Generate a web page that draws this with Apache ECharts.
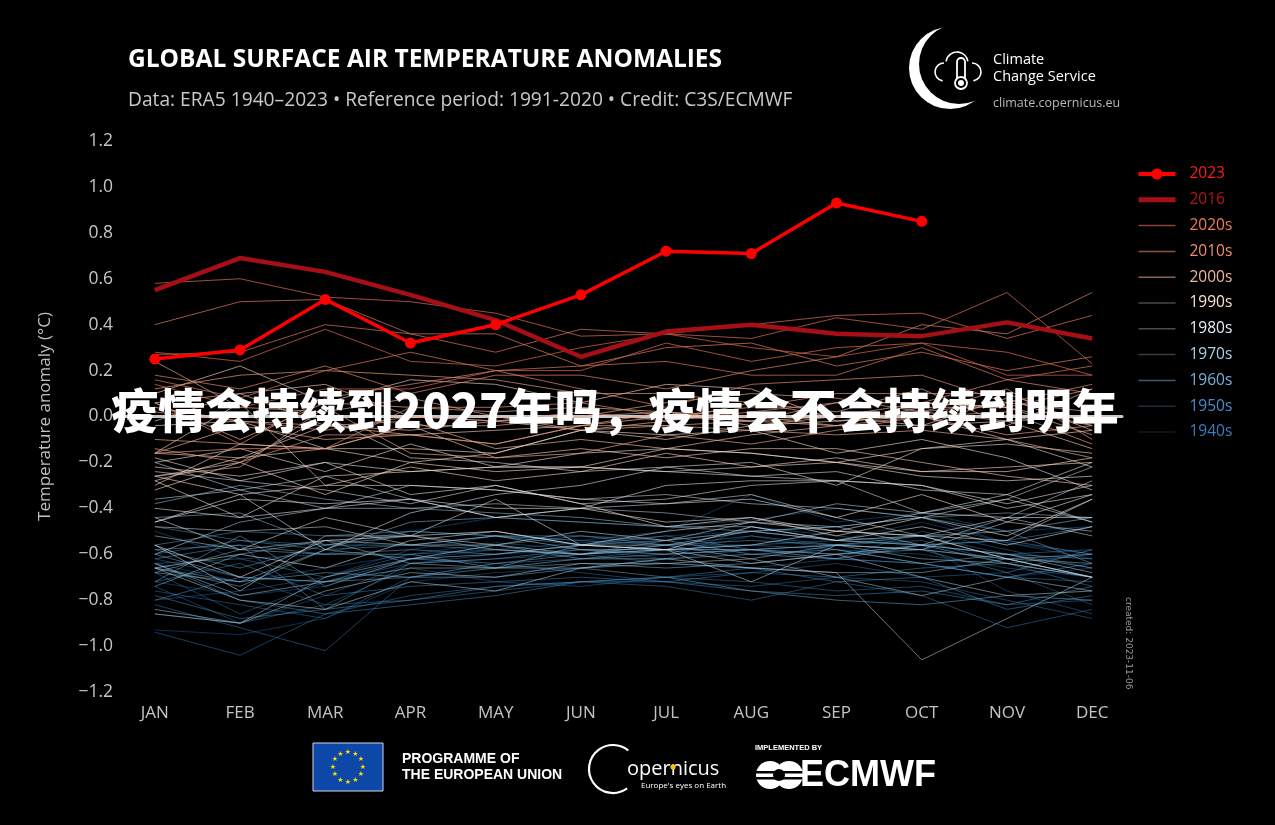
<!DOCTYPE html>
<html>
<head>
<meta charset="utf-8">
<script src="https://cdn.jsdelivr.net/npm/echarts@6/dist/echarts.min.js"></script>
<style>
html,body{margin:0;padding:0;background:#000;}
#chart{width:1275px;height:825px;}
</style>
</head>
<body>
<div id="chart"></div>
<script>
// ---------------- DATA ----------------
const months = ['JAN','FEB','MAR','APR','MAY','JUN','JUL','AUG','SEP','OCT','NOV','DEC'];
const yTicks = [-1.2,-1.0,-0.8,-0.6,-0.4,-0.2,0.0,0.2,0.4,0.6,0.8,1.0,1.2];

const y2023 = [0.25, 0.29, 0.51, 0.32, 0.40, 0.53, 0.72, 0.71, 0.93, 0.85];
const y2016 = [0.55, 0.69, 0.63, 0.53, 0.42, 0.26, 0.37, 0.40, 0.36, 0.35, 0.41, 0.34];

const years1940s = [1940,1941,1942,1943,1944,1945,1946,1947,1948,1949];
const d1940s = [
  [-0.93,-0.95,-0.88,-0.72,-0.68,-0.66,-0.62,-0.58,-0.62,-0.64,-0.70,-0.66],
  [-0.72,-0.78,-0.74,-0.62,-0.58,-0.55,-0.52,-0.50,-0.54,-0.46,-0.55,-0.60],
  [-0.64,-0.72,-0.66,-0.60,-0.55,-0.58,-0.60,-0.52,-0.58,-0.60,-0.66,-0.70],
  [-0.80,-0.76,-0.70,-0.58,-0.52,-0.54,-0.50,-0.34,-0.46,-0.42,-0.50,-0.48],
  [-0.50,-0.62,-0.60,-0.50,-0.44,-0.46,-0.48,-0.45,-0.40,-0.44,-0.55,-0.62],
  [-0.74,-0.90,-0.78,-0.64,-0.60,-0.58,-0.62,-0.48,-0.52,-0.56,-0.76,-0.86],
  [-0.62,-0.70,-0.82,-0.66,-0.72,-0.74,-0.70,-0.68,-0.64,-0.70,-0.68,-0.82],
  [-0.68,-0.86,-0.72,-0.64,-0.62,-0.60,-0.64,-0.66,-0.62,-0.50,-0.58,-0.66],
  [-0.76,-0.82,-0.88,-0.70,-0.64,-0.68,-0.72,-0.74,-0.70,-0.72,-0.80,-0.88],
  [-0.94,-1.04,-0.86,-0.78,-0.74,-0.72,-0.70,-0.72,-0.76,-0.74,-0.82,-0.80]
];
const years1950s = [1950,1951,1952,1953,1954,1955,1956,1957,1958,1959];
const d1950s = [
  [-0.86,-0.90,-0.82,-0.80,-0.76,-0.72,-0.74,-0.80,-0.72,-0.78,-0.92,-0.84],
  [-0.82,-0.92,-1.02,-0.70,-0.64,-0.62,-0.58,-0.56,-0.54,-0.52,-0.60,-0.58],
  [-0.64,-0.62,-0.70,-0.60,-0.58,-0.60,-0.56,-0.56,-0.58,-0.64,-0.70,-0.72],
  [-0.60,-0.54,-0.56,-0.50,-0.52,-0.54,-0.56,-0.52,-0.56,-0.54,-0.64,-0.60],
  [-0.72,-0.64,-0.78,-0.74,-0.72,-0.70,-0.72,-0.68,-0.70,-0.66,-0.64,-0.74],
  [-0.64,-0.80,-0.86,-0.82,-0.78,-0.72,-0.70,-0.66,-0.72,-0.70,-0.84,-0.78],
  [-0.78,-0.88,-0.84,-0.80,-0.74,-0.72,-0.72,-0.76,-0.78,-0.76,-0.82,-0.74],
  [-0.80,-0.70,-0.72,-0.62,-0.56,-0.52,-0.54,-0.50,-0.54,-0.56,-0.54,-0.48],
  [-0.48,-0.54,-0.58,-0.56,-0.52,-0.56,-0.52,-0.58,-0.60,-0.56,-0.54,-0.60],
  [-0.58,-0.66,-0.56,-0.56,-0.58,-0.60,-0.58,-0.58,-0.62,-0.64,-0.70,-0.64]
];
const years1960s = [1960,1961,1962,1963,1964,1965,1966,1967,1968,1969];
const d1960s = [
  [-0.62,-0.56,-0.84,-0.64,-0.62,-0.58,-0.60,-0.58,-0.56,-0.58,-0.68,-0.58],
  [-0.56,-0.50,-0.52,-0.50,-0.52,-0.52,-0.56,-0.54,-0.56,-0.58,-0.62,-0.70],
  [-0.58,-0.56,-0.60,-0.58,-0.60,-0.56,-0.58,-0.58,-0.60,-0.56,-0.60,-0.62],
  [-0.72,-0.52,-0.74,-0.62,-0.64,-0.60,-0.54,-0.50,-0.48,-0.44,-0.50,-0.64],
  [-0.60,-0.70,-0.72,-0.70,-0.70,-0.66,-0.70,-0.76,-0.80,-0.82,-0.78,-0.80],
  [-0.66,-0.72,-0.68,-0.70,-0.66,-0.64,-0.66,-0.64,-0.60,-0.58,-0.62,-0.60],
  [-0.68,-0.58,-0.60,-0.60,-0.66,-0.56,-0.54,-0.60,-0.58,-0.64,-0.60,-0.66],
  [-0.66,-0.74,-0.58,-0.62,-0.56,-0.62,-0.60,-0.58,-0.56,-0.52,-0.62,-0.64],
  [-0.74,-0.60,-0.54,-0.64,-0.66,-0.62,-0.62,-0.60,-0.62,-0.56,-0.64,-0.70],
  [-0.68,-0.72,-0.58,-0.46,-0.44,-0.46,-0.48,-0.50,-0.48,-0.44,-0.42,-0.44]
];
const years1970s = [1970,1971,1972,1973,1974,1975,1976,1977,1978,1979];
const d1970s = [
  [-0.44,-0.42,-0.56,-0.52,-0.58,-0.60,-0.56,-0.62,-0.56,-0.62,-0.64,-0.70],
  [-0.64,-0.78,-0.72,-0.66,-0.66,-0.66,-0.64,-0.66,-0.68,-0.68,-0.62,-0.70],
  [-0.84,-0.90,-0.70,-0.62,-0.60,-0.56,-0.56,-0.50,-0.54,-0.52,-0.50,-0.44],
  [-0.38,-0.30,-0.36,-0.40,-0.42,-0.44,-0.48,-0.48,-0.54,-0.56,-0.60,-0.68],
  [-0.86,-0.90,-0.76,-0.68,-0.70,-0.64,-0.64,-0.62,-0.70,-0.78,-0.70,-0.76],
  [-0.52,-0.58,-0.54,-0.56,-0.52,-0.58,-0.58,-0.64,-0.60,-0.70,-0.78,-0.76],
  [-0.66,-0.80,-0.84,-0.72,-0.76,-0.66,-0.62,-0.66,-0.68,-1.06,-0.88,-0.70],
  [-0.60,-0.46,-0.40,-0.40,-0.38,-0.40,-0.42,-0.46,-0.48,-0.56,-0.44,-0.52],
  [-0.48,-0.50,-0.48,-0.56,-0.56,-0.60,-0.58,-0.72,-0.56,-0.58,-0.46,-0.50],
  [-0.56,-0.76,-0.52,-0.52,-0.56,-0.50,-0.54,-0.46,-0.38,-0.42,-0.36,-0.22]
];
const years1980s = [1980,1981,1982,1983,1984,1985,1986,1987,1988,1989];
const d1980s = [
  [-0.36,-0.32,-0.40,-0.30,-0.32,-0.36,-0.34,-0.38,-0.40,-0.44,-0.36,-0.46],
  [-0.20,-0.32,-0.26,-0.36,-0.44,-0.40,-0.38,-0.34,-0.44,-0.52,-0.44,-0.28],
  [-0.66,-0.60,-0.66,-0.54,-0.50,-0.56,-0.58,-0.56,-0.50,-0.52,-0.54,-0.36],
  [-0.24,-0.28,-0.32,-0.38,-0.30,-0.38,-0.36,-0.30,-0.28,-0.42,-0.34,-0.46],
  [-0.44,-0.58,-0.44,-0.52,-0.36,-0.56,-0.50,-0.46,-0.50,-0.52,-0.62,-0.70],
  [-0.56,-0.70,-0.54,-0.52,-0.50,-0.56,-0.58,-0.48,-0.54,-0.48,-0.56,-0.48],
  [-0.40,-0.44,-0.40,-0.36,-0.44,-0.40,-0.46,-0.44,-0.50,-0.42,-0.44,-0.44],
  [-0.46,-0.34,-0.58,-0.42,-0.34,-0.30,-0.22,-0.26,-0.24,-0.32,-0.34,-0.20],
  [-0.18,-0.28,-0.20,-0.24,-0.22,-0.22,-0.24,-0.26,-0.28,-0.30,-0.40,-0.34],
  [-0.46,-0.36,-0.38,-0.36,-0.40,-0.40,-0.30,-0.28,-0.28,-0.30,-0.38,-0.30]
];
const years1990s = [1990,1991,1992,1993,1994,1995,1996,1997,1998,1999];
const d1990s = [
  [-0.26,-0.20, 0.00,-0.18,-0.20,-0.24,-0.22,-0.20,-0.30,-0.14,-0.10,-0.22],
  [-0.20,-0.14,-0.24,-0.12,-0.22,-0.16,-0.14,-0.16,-0.20,-0.26,-0.28,-0.26],
  [-0.22,-0.26,-0.20,-0.34,-0.30,-0.38,-0.48,-0.44,-0.52,-0.44,-0.52,-0.36],
  [-0.26,-0.34,-0.30,-0.30,-0.32,-0.36,-0.38,-0.36,-0.44,-0.34,-0.46,-0.34],
  [-0.28,-0.44,-0.26,-0.24,-0.22,-0.22,-0.24,-0.22,-0.20,-0.14,-0.12,-0.16],
  [-0.04,-0.02,-0.14,-0.14,-0.16,-0.06,-0.08,-0.06,-0.16,-0.10,-0.18,-0.32],
  [-0.32,-0.20,-0.34,-0.20,-0.24,-0.22,-0.14,-0.16,-0.20,-0.24,-0.24,-0.18],
  [-0.28,-0.18,-0.14,-0.20,-0.16,-0.06,-0.10,-0.04,-0.02, 0.02,-0.02, 0.00],
  [ 0.10, 0.22, 0.06, 0.16, 0.14, 0.06, 0.14, 0.12,-0.02, 0.00,-0.10,-0.06],
  [-0.16, 0.06,-0.30,-0.22,-0.28,-0.24,-0.16,-0.22,-0.18,-0.24,-0.22,-0.20]
];
const years2000s = [2000,2001,2002,2003,2004,2005,2006,2007,2008,2009];
const d2000s = [
  [-0.30,-0.12,-0.14,-0.04,-0.18,-0.14,-0.18,-0.14,-0.14,-0.20,-0.26,-0.30],
  [-0.16,-0.18,-0.04,-0.08,-0.06,-0.04, 0.00,-0.02,-0.04,-0.04, 0.08,-0.06],
  [ 0.06, 0.10, 0.14, 0.00,-0.02, 0.00, 0.02,-0.04, 0.00,-0.04,-0.02,-0.14],
  [ 0.04,-0.02,-0.04,-0.06,-0.02,-0.06,-0.02, 0.06, 0.02, 0.12,-0.04, 0.12],
  [-0.02, 0.10,-0.04,-0.02,-0.14,-0.10,-0.14,-0.08,-0.04, 0.04, 0.04,-0.08],
  [ 0.06,-0.10, 0.06, 0.04, 0.02, 0.04, 0.02,-0.02, 0.06, 0.06, 0.04,-0.04],
  [-0.16,-0.04,-0.10,-0.08,-0.12,-0.04,-0.04,-0.02, 0.00, 0.06, 0.04, 0.12],
  [ 0.24, 0.04, 0.02, 0.08, 0.00,-0.06,-0.04,-0.06,-0.08,-0.06,-0.10,-0.18],
  [-0.26,-0.22, 0.04,-0.16,-0.18,-0.16,-0.08,-0.12,-0.06, 0.00, 0.02,-0.12],
  [-0.10,-0.12,-0.14,-0.04,-0.04, 0.00, 0.06, 0.10, 0.08, 0.02, 0.06, 0.02]
];
const years2010s = [2010,2011,2012,2013,2014,2015,2017,2018,2019];
const d2010s = [
  [ 0.12, 0.18, 0.20, 0.18, 0.16, 0.10, 0.10, 0.06, 0.00, 0.02, 0.12,-0.10],
  [-0.14,-0.20,-0.08,-0.08,-0.12,-0.04, 0.02, 0.00,-0.04, 0.00,-0.08,-0.04],
  [-0.16,-0.14,-0.14, 0.04, 0.04, 0.06, 0.00, 0.04, 0.10, 0.10, 0.10,-0.04],
  [ 0.02,-0.02,-0.06, 0.00,-0.02, 0.02,-0.02, 0.02, 0.06, 0.06, 0.16, 0.10],
  [ 0.06,-0.12, 0.08, 0.14, 0.20, 0.12, 0.04, 0.14, 0.16, 0.18, 0.06, 0.14],
  [ 0.18, 0.12, 0.22, 0.10, 0.18, 0.18, 0.12, 0.20, 0.26, 0.40, 0.36, 0.54],
  [ 0.40, 0.50, 0.51, 0.36, 0.36, 0.22, 0.30, 0.32, 0.22, 0.28, 0.20, 0.26],
  [ 0.16, 0.08, 0.20, 0.28, 0.20, 0.22, 0.24, 0.18, 0.18, 0.30, 0.16, 0.22],
  [ 0.27, 0.28, 0.40, 0.36, 0.28, 0.38, 0.36, 0.40, 0.44, 0.45, 0.34, 0.44]
];
const years2020s = [2020,2021,2022];
const d2020s = [
  [ 0.58, 0.60, 0.52, 0.50, 0.45, 0.35, 0.36, 0.34, 0.43, 0.38, 0.54, 0.23],
  [ 0.14, 0.04, 0.12, 0.12, 0.20, 0.20, 0.32, 0.24, 0.30, 0.32, 0.28, 0.18],
  [ 0.28, 0.24, 0.38, 0.24, 0.22, 0.30, 0.36, 0.30, 0.26, 0.32, 0.18, 0.18]
];

const decadeLabels = ['2020s','2010s','2000s','1990s','1980s','1970s','1960s','1950s','1940s'];

// ---------------- STYLE ----------------
const legendIconColors = {'2020s':'#8a4232','2010s':'#8a5440','2000s':'#8a6656','1990s':'#4c4646','1980s':'#4a4c4e','1970s':'#363d42','1960s':'#3d5a70','1950s':'#1d2d3a','1940s':'#101a24'};
const legendTextColors = {'2023':'#ff1a1a','2016':'#b01818','2020s':'#f07a5a','2010s':'#f08f6e','2000s':'#f0b49c','1990s':'#fae0d4','1980s':'#e4eef6','1970s':'#aad0ea','1960s':'#76b0da','1950s':'#4a8ec8','1940s':'#3a7cbc'};
const colorStops = [
  [1940,[33,102,172]],[1955,[67,147,200]],[1970,[146,190,215]],[1985,[225,230,236]],
  [1997,[250,220,205]],[2008,[244,170,140]],[2022,[222,104,78]]
];
function yearColor(y){
  let c = colorStops[colorStops.length-1][1];
  for (let i=0;i<colorStops.length-1;i++){
    const [y0,c0]=colorStops[i],[y1,c1]=colorStops[i+1];
    if (y>=y0 && y<=y1){const t=(y-y0)/(y1-y0);c=c0.map((v,k)=>Math.round(v+(c1[k]-v)*t));break;}
  }
  const a = 0.45 + 0.25*(y-1940)/82;
  return 'rgba('+c[0]+','+c[1]+','+c[2]+','+a.toFixed(2)+')';
}
const FONT = "'Open Sans', 'DejaVu Sans', sans-serif";

// ---------------- SERIES ----------------
const series = [];
const groups = [
  [years1940s,d1940s],[years1950s,d1950s],[years1960s,d1960s],[years1970s,d1970s],
  [years1980s,d1980s],[years1990s,d1990s],[years2000s,d2000s],[years2010s,d2010s],[years2020s,d2020s]
];
groups.forEach(([yrs,data])=>{
  yrs.forEach((yr,i)=>{
    series.push({
      type:'line', name:'y'+yr, silent:true, symbol:'none', animation:false,
      data:data[i].map((v,m)=>[m,v]),
      lineStyle:{width:1,color:yearColor(yr)}, z:2
    });
  });
});
decadeLabels.forEach(d=>{
  series.push({type:'line',name:d,data:[],symbol:'none',color:legendIconColors[d],lineStyle:{width:1.5,color:legendIconColors[d]}});
});
series.push({type:'line',name:'2016',silent:true,symbol:'none',animation:false,z:5,
  data:y2016.map((v,m)=>[m,v]),color:'#a50f15',lineStyle:{width:4.5,color:'#a50f15'}});
series.push({type:'line',name:'2023',silent:true,symbol:'circle',symbolSize:11,animation:false,z:6,
  data:y2023.map((v,m)=>[m,v]),color:'#ff0000',itemStyle:{color:'#ff0000'},lineStyle:{width:3.5,color:'#ff0000'}});

// ---------------- GRAPHICS ----------------
const stars = [];
for (let k=0;k<12;k++){
  const ang = k*Math.PI/6;
  stars.push({type:'text',x:348+15*Math.sin(ang),y:767-15*Math.cos(ang),
    style:{text:'★',fill:'#ffde00',font:'7px DejaVu Sans',align:'center',verticalAlign:'middle'}});
}

const legendItems = ['2023','2016'].concat(decadeLabels).map(n=>{
  const it = {name:n,textStyle:{color:legendTextColors[n]}};
  if (n==='2023') it.lineStyle = {width:4,color:'#ff0000'};
  else if (n==='2016') { it.itemStyle = {opacity:0}; it.lineStyle = {width:5,color:'#a50f15'}; }
  else { it.itemStyle = {opacity:0}; it.lineStyle = {width:1.5,color:legendIconColors[n]}; }
  return it;
});

const option = {
  backgroundColor:'#000',
  animation:false,
  grid:{left:125,right:153,top:141,bottom:133,containLabel:false},
  xAxis:{
    type:'value', min:-0.35, max:11.35,
    axisLine:{show:true,lineStyle:{color:'#c8c8c8',width:3}},
    axisTick:{show:false}, splitLine:{show:false},
    axisLabel:{customValues:[0,1,2,3,4,5,6,7,8,9,10,11],formatter:v=>months[Math.round(v)]||'',
      color:'#c4c4c4',fontSize:17,fontFamily:FONT,margin:13}
  },
  yAxis:{
    type:'value', min:-1.2, max:1.2, interval:0.2,
    axisLine:{show:false}, axisTick:{show:false}, splitLine:{show:false},
    axisLabel:{color:'#c4c4c4',fontSize:17.5,fontFamily:FONT,margin:12,
      formatter:v=>{const s=Math.abs(v).toFixed(1);return (v< -1e-9?'\u2212':'')+s;}},
    name:'Temperature anomaly (°C)', nameLocation:'middle', nameGap:71, nameRotate:90,
    nameTextStyle:{color:'#c0c0c0',fontSize:17,fontFamily:FONT}
  },
  legend:{
    orient:'vertical', left:1136, top:166, padding:0,
    itemWidth:37, itemHeight:14, itemGap:9.8,
    selectedMode:false,
    data:legendItems,
    textStyle:{fontSize:15.5,fontFamily:FONT,padding:[0,0,0,9],lineHeight:14}
  },
  series:series,
  graphic:[
    {type:'text',left:128,top:48,style:{text:'GLOBAL SURFACE AIR TEMPERATURE ANOMALIES',fill:'#ffffff',font:"bold 24.5px 'Open Sans', sans-serif"}},
    {type:'text',left:128,top:91,style:{text:'Data: ERA5 1940–2023 • Reference period: 1991-2020 • Credit: C3S/ECMWF',fill:'#c8c8c8',font:"19.2px 'Open Sans', sans-serif"}},
    // CCS logo
    {type:'circle',shape:{cx:950,cy:68,r:41},style:{fill:'#ffffff'}},
    {type:'circle',shape:{cx:959,cy:64,r:40},style:{fill:'#000000'}},
    {type:'arc',shape:{cx:944,cy:72,r:9,startAngle:Math.PI*0.55,endAngle:Math.PI*1.5},style:{stroke:'#fff',lineWidth:1.6,fill:null}},
    {type:'arc',shape:{cx:957,cy:63,r:11,startAngle:Math.PI*1.05,endAngle:Math.PI*1.95},style:{stroke:'#fff',lineWidth:1.6,fill:null}},
    {type:'arc',shape:{cx:972,cy:72,r:9,startAngle:Math.PI*1.5,endAngle:Math.PI*0.45},style:{stroke:'#fff',lineWidth:1.6,fill:null}},
    {type:'rect',shape:{x:957,y:58,width:8,height:24,r:4},style:{stroke:'#fff',lineWidth:1.8,fill:'#000'}},
    {type:'circle',shape:{cx:961,cy:83,r:6},style:{stroke:'#fff',lineWidth:1.8,fill:'#000'}},
    {type:'circle',shape:{cx:961,cy:83,r:3},style:{fill:'#fff'}},
    {type:'text',left:993,top:52,style:{text:'Climate',fill:'#fff',font:"14.5px 'Open Sans', sans-serif"}},
    {type:'text',left:993,top:69,style:{text:'Change Service',fill:'#fff',font:"14.5px 'Open Sans', sans-serif"}},
    {type:'text',left:993,top:97,style:{text:'climate.copernicus.eu',fill:'#b8b8b8',font:"12.5px 'Open Sans', sans-serif"}},
    // created
    {type:'text',x:1133,y:597,rotation:-Math.PI/2,style:{text:'created: 2023-11-06',fill:'#9a9a9a',font:"9px 'DejaVu Sans', sans-serif"}},
    // EU flag
    {type:'rect',shape:{x:313,y:743,width:70,height:48},style:{fill:'#0d47a8',stroke:'#cfd8e8',lineWidth:1}},
    ...stars,
    {type:'text',left:402,top:752,style:{text:'PROGRAMME OF',fill:'#fff',font:"bold 14px 'Liberation Sans', Arial, sans-serif"}},
    {type:'text',left:402,top:768,style:{text:'THE EUROPEAN UNION',fill:'#fff',font:"bold 14px 'Liberation Sans', Arial, sans-serif"}},
    // Copernicus
    {type:'arc',shape:{cx:613,cy:769,r:24,startAngle:Math.PI*0.3,endAngle:Math.PI*1.72},style:{stroke:'#fff',lineWidth:2.2,fill:null}},
    {type:'text',left:627,top:759,style:{text:'opernicus',fill:'#fff',font:"20px 'Open Sans', sans-serif"}},
    {type:'circle',shape:{cx:673,cy:767,r:2.6},style:{fill:'#f5c400'}},
    {type:'text',left:641,top:782,style:{text:"Europe's eyes on Earth",fill:'#fff',font:"8px 'Open Sans', sans-serif"}},
    // ECMWF
    {type:'text',left:755,top:744,style:{text:'IMPLEMENTED BY',fill:'#fff',font:"bold 7.5px 'Liberation Sans', Arial, sans-serif"}},
    {type:'circle',shape:{cx:770,cy:775,r:14},style:{fill:'#fff'}},
    {type:'circle',shape:{cx:789,cy:775,r:14},style:{fill:'#fff'}},
    {type:'rect',shape:{x:752,y:771,width:52,height:2.5},style:{fill:'#000'}},
    {type:'rect',shape:{x:752,y:777,width:52,height:2.5},style:{fill:'#000'}},
    {type:'circle',shape:{cx:779,cy:775,r:6},style:{fill:'#000'}},
    {type:'text',left:800,top:758,style:{text:'ECMWF',fill:'#fff',font:"bold 36px 'Liberation Sans', Arial, sans-serif"}},
    // overlay caption
    {type:'text',x:615,y:410,z:100,style:{text:'疫情会持续到2027年吗，疫情会不会持续到明年',fill:'#ffffff',
      font:"900 47px 'Noto Sans CJK SC', sans-serif",align:'center',verticalAlign:'middle',
      shadowBlur:6,shadowColor:'rgba(0,0,0,0.9)'}}
  ]
};
const chart = echarts.init(document.getElementById('chart'),null,{renderer:'canvas'});
chart.setOption(option);
</script>
</body>
</html>
